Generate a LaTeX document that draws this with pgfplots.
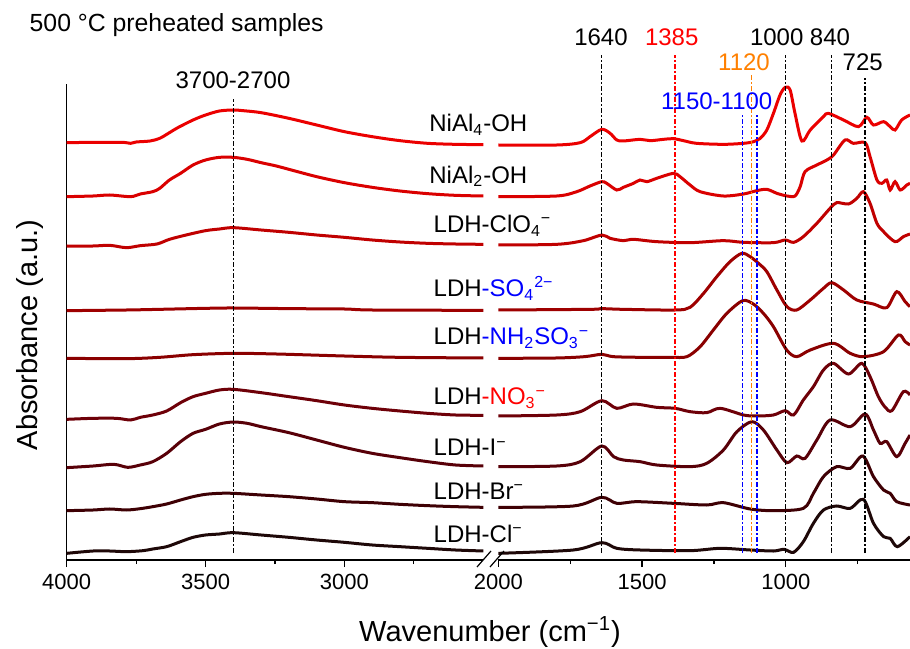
\documentclass[border=0pt]{standalone}
\usepackage{fontspec}
\setmainfont{Liberation Sans}
\usepackage{pgfplots}
\pgfplotsset{compat=1.18}
\definecolor{c1}{RGB}{235,0,0}
\definecolor{c2}{RGB}{218,0,0}
\definecolor{c3}{RGB}{192,0,0}
\definecolor{c4}{RGB}{158,0,0}
\definecolor{c5}{RGB}{138,0,0}
\definecolor{c6}{RGB}{110,0,8}
\definecolor{c7}{RGB}{88,0,8}
\definecolor{c8}{RGB}{62,0,4}
\definecolor{c9}{RGB}{30,8,8}
\definecolor{lblue}{RGB}{0,0,255}
\definecolor{lred}{RGB}{255,0,0}
\definecolor{lorange}{RGB}{255,128,0}
\tikzset{vl/.style={line width=0.65pt, dash pattern=on 2.5pt off 1.2pt on 0.6pt off 1.2pt}}
\pgfplotsset{
  ftir/.style={scale only axis, height=238pt, ymin=0, ymax=14.28, x dir=reverse,
    ytick=\empty, axis x line*=bottom, axis line style={-, line width=0.6pt},
    tick align=outside, major tick length=3.5pt, minor tick length=2pt,
    every tick/.style={black, line width=0.6pt},
    tick label style={font=\fontsize{11}{13}\selectfont},
    /pgf/number format/assume math mode=true, /pgf/number format/1000 sep={},
    scaled x ticks=false, clip=false,
    every axis plot/.append style={line width=1.5pt, smooth, no marks}}
}
\begin{document}
\begin{tikzpicture}
\useasboundingbox (0,0) rectangle (455pt,324pt);
% ---------------- left part -----------------
\begin{axis}[ftir, at={(33.35pt,44pt)}, anchor=south west, width=208.3pt,
  xmin=2500, xmax=4000, axis y line*=left,
  xtick={3000,3500,4000}, minor xtick={2750,3250,3750}]
\addplot[c1] coordinates {(4000,12.52)(3900,12.53)(3800,12.53)(3770,12.50)(3750,12.54)(3700,12.57)(3665,12.65)(3630,12.82)(3600,12.97)(3545,13.20)(3500,13.35)(3450,13.47)(3400,13.50)(3365,13.48)(3300,13.42)(3200,13.25)(3100,13.05)(3000,12.85)(2900,12.70)(2800,12.58)(2700,12.50)(2600,12.47)(2500,12.46)};
\addplot[c2] coordinates {(4000,10.90)(3905,10.92)(3845,10.95)(3770,10.90)(3735,10.98)(3690,11.05)(3665,11.15)(3630,11.40)(3590,11.60)(3545,11.85)(3500,12.00)(3450,12.08)(3400,12.08)(3350,12.02)(3300,11.92)(3245,11.82)(3200,11.72)(3100,11.50)(3000,11.32)(2900,11.18)(2800,11.07)(2700,10.99)(2600,10.94)(2500,10.92)};
\addplot[c3] coordinates {(4000,9.42)(3905,9.42)(3845,9.44)(3785,9.37)(3735,9.43)(3675,9.48)(3630,9.62)(3570,9.75)(3500,9.88)(3450,9.93)(3400,9.97)(3300,9.90)(3200,9.83)(3100,9.75)(3000,9.68)(2900,9.60)(2800,9.54)(2700,9.50)(2600,9.48)(2500,9.47)};
\addplot[c4] coordinates {(4000,7.48)(3785,7.50)(3665,7.52)(3500,7.55)(3400,7.56)(3185,7.54)(3000,7.53)(2900,7.50)(2500,7.49)};
\addplot[c5] coordinates {(4000,6.05)(3785,6.04)(3665,6.08)(3545,6.16)(3400,6.20)(3245,6.18)(3000,6.12)(2800,6.08)(2500,6.06)};
\addplot[c6] coordinates {(4000,4.22)(3905,4.25)(3820,4.25)(3770,4.20)(3735,4.28)(3690,4.35)(3640,4.47)(3590,4.72)(3545,4.90)(3500,5.00)(3450,5.10)(3400,5.12)(3300,5.02)(3200,4.90)(3100,4.78)(3000,4.65)(2900,4.55)(2800,4.47)(2700,4.40)(2600,4.35)(2500,4.34)};
\addplot[c7] coordinates {(4000,2.77)(3905,2.82)(3830,2.87)(3780,2.78)(3735,2.85)(3690,2.95)(3640,3.20)(3590,3.55)(3545,3.80)(3500,3.92)(3450,4.08)(3400,4.14)(3350,4.10)(3300,4.00)(3200,3.82)(3100,3.60)(3000,3.38)(2900,3.20)(2800,3.07)(2700,2.95)(2600,2.85)(2500,2.82)};
\addplot[c8] coordinates {(4000,1.48)(3905,1.50)(3845,1.53)(3785,1.50)(3735,1.54)(3690,1.60)(3640,1.68)(3590,1.80)(3545,1.90)(3500,1.97)(3450,2.00)(3400,2.00)(3300,1.95)(3200,1.90)(3100,1.83)(3000,1.75)(2900,1.72)(2800,1.67)(2700,1.63)(2600,1.60)(2500,1.58)};
\addplot[c9] coordinates {(4000,0.20)(3905,0.27)(3845,0.27)(3785,0.25)(3725,0.28)(3690,0.33)(3640,0.40)(3590,0.55)(3545,0.68)(3500,0.75)(3450,0.78)(3400,0.82)(3300,0.75)(3200,0.68)(3100,0.60)(3000,0.53)(2900,0.45)(2800,0.40)(2700,0.35)(2600,0.30)(2500,0.27)};
\draw[vl, black] (3400,0.21) -- (3400,13.83);
\end{axis}
% ---------------- right part -----------------
\begin{axis}[ftir, at={(249.15pt,44pt)}, anchor=south west, width=205.85pt,
  xmin=568, xmax=2000, axis y line=none,
  xtick={1000,1500,2000}, minor xtick={750,1250,1750}]
\addplot[c1] coordinates {(2000,12.45)(1797,12.45)(1715,12.52)(1681,12.70)(1640,12.92)(1611,12.80)(1588,12.60)(1565,12.57)(1507,12.62)(1472,12.58)(1425,12.62)(1391,12.64)(1356,12.58)(1310,12.50)(1217,12.47)(1147,12.50)(1112,12.55)(1089,12.65)(1066,12.90)(1043,13.40)(1020,13.95)(1002,14.18)(985,14.10)(968,13.40)(944,12.57)(915,12.90)(869,13.30)(852,13.40)(799,13.20)(747,13.00)(718,13.28)(695,13.05)(660,13.15)(637,13.00)(620,12.90)(597,13.20)(568,13.35)};
\addplot[c2] coordinates {(2000,10.90)(1797,10.92)(1727,11.05)(1681,11.22)(1640,11.35)(1623,11.30)(1588,11.10)(1565,11.18)(1530,11.30)(1507,11.40)(1483,11.35)(1449,11.45)(1391,11.60)(1368,11.50)(1333,11.25)(1298,11.05)(1217,10.92)(1147,10.98)(1101,11.08)(1066,11.12)(1031,11.00)(996,10.92)(968,10.92)(950,11.20)(933,11.65)(892,11.85)(857,12.00)(834,12.15)(794,12.60)(765,12.50)(724,12.52)(707,12.10)(683,11.40)(666,11.30)(649,11.40)(637,11.10)(620,11.35)(602,11.10)(579,11.25)(568,11.30)};
\addplot[c3] coordinates {(2000,9.45)(1797,9.47)(1704,9.58)(1640,9.75)(1611,9.65)(1565,9.58)(1530,9.62)(1449,9.55)(1333,9.52)(1217,9.58)(1147,9.53)(1043,9.52)(1002,9.60)(973,9.53)(939,9.70)(892,10.10)(846,10.55)(823,10.72)(782,10.68)(753,10.85)(730,11.05)(707,10.70)(683,10.10)(660,9.85)(620,9.55)(591,9.70)(568,9.78)};
\addplot[c4] coordinates {(2000,7.50)(1681,7.52)(1640,7.54)(1565,7.52)(1385,7.50)(1333,7.58)(1286,8.00)(1240,8.50)(1194,8.95)(1153,9.20)(1124,9.10)(1095,8.90)(1066,8.65)(1031,8.10)(996,7.60)(962,7.50)(915,7.80)(869,8.15)(840,8.32)(799,8.10)(753,7.80)(695,7.68)(649,7.57)(614,8.05)(585,7.75)(568,7.60)};
\addplot[c5] coordinates {(2000,6.05)(1800,6.06)(1700,6.10)(1640,6.17)(1600,6.10)(1500,6.08)(1400,6.08)(1344,6.10)(1298,6.40)(1252,6.90)(1205,7.40)(1150,7.78)(1113,7.68)(1078,7.40)(1043,7.00)(997,6.30)(962,6.10)(915,6.30)(834,6.50)(776,6.20)(730,6.10)(660,6.25)(608,6.75)(585,6.55)(568,6.45)};
\addplot[c6] coordinates {(2000,4.32)(1797,4.35)(1715,4.45)(1640,4.78)(1588,4.55)(1530,4.68)(1449,4.58)(1385,4.55)(1333,4.45)(1275,4.42)(1228,4.55)(1147,4.35)(1101,4.32)(1043,4.35)(1002,4.48)(973,4.35)(939,4.80)(904,5.20)(869,5.70)(834,5.90)(782,5.58)(736,5.90)(707,5.50)(678,4.90)(654,4.58)(631,4.48)(591,5.05)(568,4.95)};
\addplot[c7] coordinates {(2000,2.80)(1797,2.82)(1715,2.95)(1640,3.42)(1599,3.10)(1565,3.00)(1507,2.95)(1449,2.85)(1333,2.80)(1275,2.90)(1217,3.30)(1170,3.85)(1118,4.15)(1078,3.90)(1031,3.30)(996,2.92)(962,3.12)(933,3.05)(892,3.60)(846,4.20)(776,4.00)(724,4.38)(695,3.90)(672,3.50)(649,3.55)(614,3.10)(585,3.50)(568,3.75)};
\addplot[c8] coordinates {(2000,1.58)(1739,1.62)(1640,1.88)(1588,1.70)(1518,1.75)(1391,1.70)(1275,1.65)(1217,1.72)(1124,1.53)(1043,1.48)(939,1.55)(904,2.00)(869,2.50)(823,2.80)(776,2.75)(732,3.12)(695,2.50)(660,2.10)(637,2.00)(614,1.75)(568,1.65)};
\addplot[c9] coordinates {(2000,0.20)(1739,0.30)(1640,0.52)(1588,0.35)(1507,0.30)(1333,0.28)(1228,0.35)(1124,0.30)(1043,0.27)(1006,0.32)(973,0.23)(939,0.55)(904,1.10)(869,1.50)(823,1.62)(776,1.55)(730,1.82)(695,1.10)(660,0.70)(637,0.65)(612,0.40)(568,0.70)};
\draw[vl, black] (1640,0.21) -- (1640,15.15);
\draw[vl, lred] (1385,0.21) -- (1385,15.15);
\draw[vl, lorange] (1120,0.21) -- (1120,14.55);
\draw[vl, lblue] (1150,0.21) -- (1150,13.35);
\draw[vl, lblue] (1100,0.21) -- (1100,13.35);
\draw[vl, black] (1000,0.21) -- (1000,15.15);
\draw[vl, black] (840,0.21) -- (840,15.15);
\draw[vl, black] (725,0.21) -- (725,14.46);
\end{axis}
% ---------------- texts (pixel-like coordinates) -----------------
\begin{scope}[x=0.5pt, y=-0.5pt, yshift=324pt]
\draw[line width=0.6pt] (477,567) -- (491,551) (490,567) -- (504,551);
\node[anchor=west, inner sep=0, font=\fontsize{12.4}{14}\selectfont] at (29.3,25) {500 °C preheated samples};
\node[anchor=center, font=\fontsize{14.5}{17}\selectfont] at (490,632) {Wavenumber (cm\textsuperscript{−1})};
\node[anchor=center, rotate=90, font=\fontsize{14.5}{17}\selectfont] at (30,335) {Absorbance (a.u.)};
\begin{scope}[every node/.style={anchor=base, inner sep=0, font=\fontsize{12}{14}\selectfont}]
\node at (233,88.3) {3700-2700};
\node at (601,45.7) {1640};
\node[text=lred] at (671.7,45.7) {1385};
\node at (776.7,45.7) {1000};
\node at (830,45.7) {840};
\node[text=lorange] at (744,71) {1120};
\node at (862.7,71) {725};
\node[text=lblue] at (716.7,110) {1150-1100};
\end{scope}
\begin{scope}[every node/.style={anchor=base west, inner sep=0, font=\fontsize{12}{14}\selectfont}]
\node at (429,131.7) {NiAl\textsubscript{4}-OH};
\node at (429,183.3) {NiAl\textsubscript{2}-OH};
\node at (433.3,232.7) {LDH-ClO\textsubscript{4}\textsuperscript{−}};
\node at (433.3,296.7) {LDH\textcolor{lblue}{-SO\textsubscript{4}\textsuperscript{2−}}};
\node at (433.3,345) {LDH\textcolor{lblue}{-NH\textsubscript{2}SO\textsubscript{3}\textsuperscript{−}}};
\node at (433.3,405) {LDH\textcolor{lred}{-NO\textsubscript{3}\textsuperscript{−}}};
\node at (433.3,456) {LDH-I\textsuperscript{−}};
\node at (433.3,499.3) {LDH-Br\textsuperscript{−}};
\node at (433.3,542.7) {LDH-Cl\textsuperscript{−}};
\end{scope}
\end{scope}
\end{tikzpicture}
\end{document}
